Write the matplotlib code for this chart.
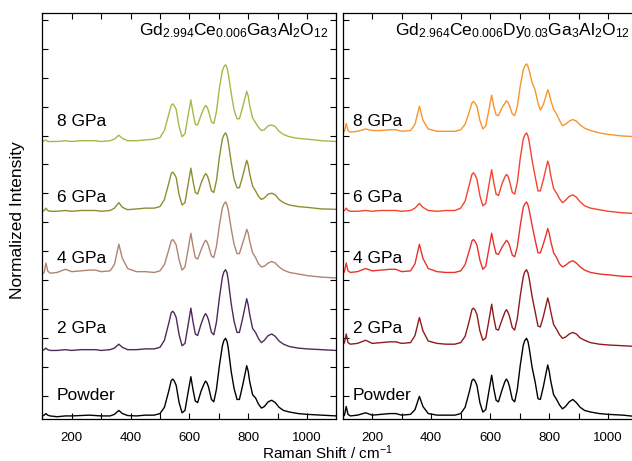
import matplotlib
matplotlib.use("Agg")
import matplotlib.pyplot as plt
from matplotlib.ticker import MultipleLocator, FixedLocator
import numpy as np

plt.rcParams['font.family'] = ['Liberation Sans', 'DejaVu Sans']
plt.rcParams['mathtext.fontset'] = 'custom'
plt.rcParams['mathtext.rm'] = 'Liberation Sans'
plt.rcParams['mathtext.it'] = 'Liberation Sans'
plt.rcParams['mathtext.default'] = 'regular'

# ==== Data ====
shift = [100, 106, 112, 118, 126, 150, 178, 200, 230, 260, 280, 300, 330, 345, 360,
         372, 390, 420, 450, 480, 500, 515, 530, 538, 543, 548, 555, 565, 575, 585, 595, 605,
         612, 620, 628, 640, 650, 655, 660, 665, 675, 683, 692, 702, 712, 717, 723, 728, 732, 742, 752,
         762, 770, 780, 790, 795, 800, 805, 815, 825, 835, 845, 855, 868, 880, 892, 905, 920,
         940, 970, 1000, 1050, 1100]

labels = ["Powder", "2 GPa", "4 GPa", "6 GPa", "8 GPa"]

# Gd2.994Ce0.006Ga3Al2O12
ce_powder = [0.01, 0.02, 0.04, 0.02, 0.01, 0.0, 0.01, 0.01, 0.015, 0.02, 0.015, 0.01, 0.01, 0.03, 0.08,
             0.04, 0.015, 0.01, 0.02, 0.02, 0.04, 0.12, 0.33, 0.46, 0.48, 0.46, 0.40, 0.18, 0.05, 0.08, 0.30, 0.51,
             0.35, 0.20, 0.18, 0.33, 0.42, 0.455, 0.43, 0.38, 0.22, 0.19, 0.35, 0.65, 0.90, 0.97, 1.0, 0.96, 0.88, 0.58, 0.36,
             0.22, 0.22, 0.38, 0.56, 0.65, 0.58, 0.45, 0.28, 0.24, 0.16, 0.11, 0.13, 0.19, 0.21, 0.18, 0.12, 0.08,
             0.06, 0.04, 0.03, 0.02, 0.01]
ce_2gpa = [0.0, 0.01, 0.03, 0.01, 0.0, 0.0, 0.01, 0.0, 0.01, 0.01, 0.01, 0.0, 0.01, 0.03, 0.08,
           0.04, 0.01, 0.01, 0.02, 0.02, 0.04, 0.13, 0.35, 0.48, 0.50, 0.48, 0.42, 0.20, 0.06, 0.09, 0.31, 0.54,
           0.37, 0.21, 0.19, 0.34, 0.44, 0.47, 0.44, 0.39, 0.23, 0.20, 0.36, 0.67, 0.93, 1.0, 1.03, 0.99, 0.90, 0.60, 0.37,
           0.23, 0.23, 0.39, 0.57, 0.66, 0.58, 0.46, 0.28, 0.23, 0.15, 0.10, 0.13, 0.19, 0.21, 0.18, 0.12, 0.08,
           0.05, 0.03, 0.02, 0.01, 0.0]
ce_4gpa = [0.0, 0.02, 0.14, 0.04, 0.01, 0.02, 0.06, 0.03, 0.04, 0.05, 0.05, 0.03, 0.04, 0.12, 0.38,
           0.20, 0.07, 0.03, 0.03, 0.02, 0.04, 0.12, 0.31, 0.42, 0.44, 0.42, 0.37, 0.18, 0.05, 0.09, 0.30, 0.52,
           0.36, 0.21, 0.19, 0.31, 0.40, 0.43, 0.41, 0.36, 0.23, 0.21, 0.35, 0.62, 0.84, 0.89, 0.92, 0.88, 0.82, 0.58, 0.38,
           0.26, 0.26, 0.38, 0.50, 0.57, 0.52, 0.42, 0.27, 0.21, 0.13, 0.09, 0.10, 0.14, 0.16, 0.14, 0.09, 0.05,
           0.02, 0.0, -0.02, -0.04, -0.05]
ce_6gpa = [-0.01, 0.0, 0.03, 0.0, -0.01, -0.01, 0.0, -0.01, 0.0, 0.0, 0.0, -0.01, 0.0, 0.03, 0.10,
           0.04, 0.01, 0.02, 0.03, 0.03, 0.05, 0.14, 0.35, 0.47, 0.49, 0.47, 0.42, 0.20, 0.07, 0.10, 0.32, 0.54,
           0.38, 0.23, 0.21, 0.35, 0.44, 0.47, 0.45, 0.40, 0.25, 0.23, 0.38, 0.68, 0.91, 0.96, 0.99, 0.95, 0.88, 0.62, 0.40,
           0.29, 0.29, 0.42, 0.57, 0.64, 0.58, 0.47, 0.31, 0.25, 0.18, 0.14, 0.16, 0.21, 0.22, 0.20, 0.14, 0.10,
           0.07, 0.05, 0.04, 0.02, 0.015]
ce_8gpa = [0.0, 0.01, 0.02, 0.0, 0.0, 0.0, 0.01, 0.0, 0.01, 0.01, 0.01, 0.0, 0.01, 0.03, 0.08,
           0.04, 0.01, 0.01, 0.02, 0.03, 0.05, 0.14, 0.35, 0.46, 0.48, 0.46, 0.41, 0.19, 0.06, 0.10, 0.32, 0.53,
           0.37, 0.22, 0.21, 0.34, 0.43, 0.46, 0.44, 0.39, 0.25, 0.23, 0.38, 0.68, 0.90, 0.95, 0.98, 0.94, 0.87, 0.62, 0.40,
           0.29, 0.29, 0.42, 0.57, 0.64, 0.58, 0.46, 0.30, 0.24, 0.18, 0.14, 0.15, 0.20, 0.21, 0.19, 0.13, 0.09,
           0.06, 0.04, 0.03, 0.01, 0.0]

# Gd2.964Ce0.006Dy0.03Ga3Al2O12
dy_powder = [0.0, 0.02, 0.13, 0.03, 0.01, 0.02, 0.05, 0.02, 0.03, 0.04, 0.04, 0.02, 0.03, 0.09, 0.26,
             0.13, 0.04, 0.02, 0.02, 0.02, 0.04, 0.12, 0.33, 0.46, 0.48, 0.46, 0.40, 0.18, 0.06, 0.09, 0.31, 0.53,
             0.36, 0.21, 0.19, 0.34, 0.45, 0.48, 0.45, 0.39, 0.22, 0.19, 0.35, 0.66, 0.91, 0.97, 1.0, 0.96, 0.88, 0.63, 0.45,
             0.23, 0.22, 0.38, 0.57, 0.66, 0.58, 0.46, 0.28, 0.22, 0.15, 0.10, 0.13, 0.19, 0.22, 0.18, 0.12, 0.08,
             0.06, 0.04, 0.03, 0.02, 0.0]
dy_2gpa = [0.0, 0.03, 0.14, 0.03, 0.01, 0.02, 0.06, 0.02, 0.03, 0.04, 0.04, 0.02, 0.03, 0.12, 0.35,
           0.18, 0.05, 0.02, 0.01, 0.01, 0.03, 0.11, 0.32, 0.45, 0.47, 0.45, 0.39, 0.18, 0.06, 0.09, 0.30, 0.52,
           0.35, 0.20, 0.19, 0.32, 0.42, 0.45, 0.42, 0.37, 0.22, 0.19, 0.34, 0.63, 0.87, 0.93, 0.96, 0.92, 0.85, 0.62, 0.43,
           0.24, 0.23, 0.36, 0.52, 0.60, 0.53, 0.43, 0.26, 0.20, 0.13, 0.085, 0.10, 0.14, 0.16, 0.14, 0.09, 0.06,
           0.03, 0.01, 0.0, -0.01, -0.02]
dy_4gpa = [0.0, 0.03, 0.14, 0.04, 0.02, 0.03, 0.07, 0.04, 0.05, 0.06, 0.06, 0.03, 0.04, 0.13, 0.38,
           0.20, 0.07, 0.03, 0.02, 0.02, 0.04, 0.12, 0.31, 0.42, 0.44, 0.42, 0.37, 0.18, 0.06, 0.10, 0.31, 0.52,
           0.38, 0.26, 0.25, 0.34, 0.40, 0.43, 0.41, 0.37, 0.24, 0.22, 0.35, 0.62, 0.85, 0.89, 0.92, 0.88, 0.82, 0.62, 0.44,
           0.27, 0.27, 0.38, 0.51, 0.58, 0.52, 0.42, 0.27, 0.21, 0.13, 0.09, 0.11, 0.15, 0.17, 0.14, 0.09, 0.05,
           0.02, 0.0, -0.01, -0.03, -0.035]
dy_6gpa = [0.0, 0.01, 0.04, 0.01, 0.0, 0.0, 0.01, 0.0, 0.01, 0.01, 0.01, 0.0, 0.01, 0.04, 0.10,
           0.05, 0.01, 0.0, 0.01, 0.01, 0.04, 0.13, 0.35, 0.47, 0.49, 0.47, 0.41, 0.20, 0.07, 0.10, 0.32, 0.53,
           0.37, 0.22, 0.20, 0.35, 0.44, 0.47, 0.45, 0.39, 0.24, 0.22, 0.37, 0.68, 0.92, 0.97, 1.0, 0.96, 0.89, 0.65, 0.45,
           0.26, 0.26, 0.40, 0.56, 0.64, 0.58, 0.46, 0.29, 0.23, 0.16, 0.11, 0.14, 0.19, 0.21, 0.18, 0.12, 0.07,
           0.04, 0.02, 0.0, -0.02, -0.03]
dy_8gpa = [0.0, 0.02, 0.12, 0.03, 0.01, 0.02, 0.05, 0.03, 0.03, 0.04, 0.04, 0.02, 0.03, 0.11, 0.34,
           0.16, 0.05, 0.02, 0.02, 0.02, 0.04, 0.11, 0.28, 0.38, 0.40, 0.38, 0.34, 0.16, 0.05, 0.09, 0.28, 0.48,
           0.34, 0.23, 0.22, 0.32, 0.38, 0.41, 0.39, 0.35, 0.24, 0.22, 0.34, 0.60, 0.80, 0.85, 0.88, 0.85, 0.80, 0.64, 0.55,
           0.38, 0.29, 0.36, 0.48, 0.55, 0.50, 0.42, 0.30, 0.24, 0.16, 0.09, 0.11, 0.15, 0.17, 0.15, 0.10, 0.06,
           0.03, 0.0, -0.02, -0.04, -0.05]

ce_offsets = [0.0, 0.845, 1.82, 2.63, 3.51]
dy_offsets = [0.0, 0.915, 1.82, 2.62, 3.62]

ce_colors = ["black", "#4e2a5c", "#b08472", "#8e8e30", "#a3ba48"]
dy_colors = ["black", "#8e1c1c", "#e8332c", "#f2452f", "#f7962c"]

ce_title = r"Gd$_{2.994}$Ce$_{0.006}$Ga$_3$Al$_2$O$_{12}$"
dy_title = r"Gd$_{2.964}$Ce$_{0.006}$Dy$_{0.03}$Ga$_3$Al$_2$O$_{12}$"

label_y = [0.27, 1.12, 2.02, 2.79, 3.76]


# ==== Function: draw_panel ====
def draw_panel(ax, spectra, offsets, colors, title, label_x):
    for spec, off, col, lab, ly in zip(spectra, offsets, colors, labels, label_y):
        ax.plot(shift, np.array(spec) + off, color=col, lw=1.0)
        ax.text(label_x, ly, lab, fontsize=12.5, va='center', ha='left')
    ax.text(1072, 4.87, title, fontsize=12.5, ha='right', va='baseline')
    ax.set_xlim(100, 1100)
    ax.set_ylim(-0.033, 5.145)
    ax.xaxis.set_major_locator(MultipleLocator(200))
    ax.xaxis.set_minor_locator(MultipleLocator(100))
    ax.yaxis.set_major_locator(FixedLocator(np.arange(0.268, 5.1, 0.3686)))
    ax.xaxis.set_major_formatter(plt.FuncFormatter(lambda v, p: f"{v:.0f}" if v < 1100 else ""))
    ax.tick_params(which='both', direction='in', top=True, right=True,
                   length=4, width=0.8, labelsize=9.5, pad=9)
    ax.set_yticklabels([])
    for sp in ax.spines.values():
        sp.set_linewidth(0.9)


fig = plt.figure(figsize=(6.32, 4.61), dpi=100)
ax1 = fig.add_axes([42.4 / 632, 41.7 / 461, 294 / 632, 406 / 461])
ax2 = fig.add_axes([342.7 / 632, 41.7 / 461, 295 / 632, 406 / 461])

draw_panel(ax1, [ce_powder, ce_2gpa, ce_4gpa, ce_6gpa, ce_8gpa],
           ce_offsets, ce_colors, ce_title, 149)
draw_panel(ax2, [dy_powder, dy_2gpa, dy_4gpa, dy_6gpa, dy_8gpa],
           dy_offsets, dy_colors, dy_title, 135)
ax2.tick_params(axis='y', which='both', right=False)
ax2.spines['right'].set_visible(False)

fig.text(18 / 632, 1 - 220 / 461, "Normalized Intensity", rotation=90,
         ha='center', va='center', fontsize=12.5)
fig.text(327.5 / 632, 1 - 453 / 461, r"Raman Shift / cm$^{-1}$",
         ha='center', va='center', fontsize=11)

plt.savefig("out.png", dpi=100)
plt.close()
